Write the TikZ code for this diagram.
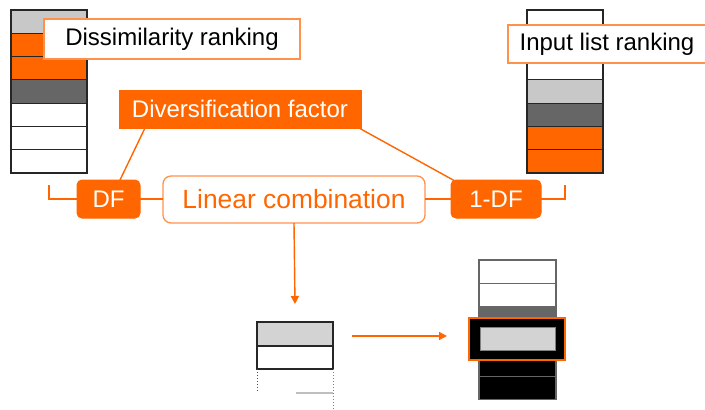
\documentclass[tikz,border=0pt]{standalone}
\usepackage{fontspec}
\setmainfont{Liberation Sans}
\usetikzlibrary{arrows.meta}
\definecolor{orng}{RGB}{255,102,0}
\definecolor{lorng}{RGB}{255,145,77}
\definecolor{lgray}{RGB}{200,200,200}
\definecolor{mgray}{RGB}{211,211,211}
\definecolor{dgray}{RGB}{102,102,102}
\begin{document}
\begin{tikzpicture}[x=1pt,y=-1pt,
  cell/.style={draw=black!85,line width=1.2pt,anchor=north west,minimum width=76pt,minimum height=23.3pt,inner sep=0pt,outer sep=0pt},
  lbl/.style={draw=lorng,line width=1.3pt,fill=white,anchor=north west,inner sep=0pt,outer sep=0pt,font=\fontsize{24}{28}\selectfont,text=black},
  obox/.style={fill=orng,draw=orng,line width=1pt,anchor=north west,inner sep=0pt,outer sep=0pt,font=\fontsize{24}{28}\selectfont,text=white},
  conn/.style={draw=orng,line width=1.4pt},
  tip/.style={-{Triangle[width=8pt,length=8pt]}}
]
\useasboundingbox (0,0) rectangle (705,410);
% left stack
\foreach \i/\c in {1/lgray,2/orng,3/orng,4/dgray,5/white,6/white,7/white}
  \node[cell,fill=\c] (L\i) at (11,{10+(\i-1)*23.29}) {};
% right top stack
\foreach \i/\c in {1/white,2/white,3/white,4/lgray,5/dgray,6/orng,7/orng}
  \node[cell,fill=\c] (R\i) at (527,{10+(\i-1)*23.29}) {};
% labels
\node[lbl,minimum width=256pt,minimum height=40pt] (dis) at (44,19) {Dissimilarity ranking};
\node[lbl,minimum width=198pt,minimum height=38pt] (inp) at (508,25) {Input list ranking};
\node[obox,minimum width=242pt,minimum height=38pt] (div) at (119,90) {Diversification factor};
\node[obox,rounded corners=5pt,minimum width=63pt,minimum height=38pt] (DF) at (77,180) {DF};
\node[obox,rounded corners=5pt,minimum width=90pt,minimum height=38pt] (one) at (451,180) {1-DF};
\node[lbl,rounded corners=8pt,text=orng,font=\fontsize{26.4}{30}\selectfont,minimum width=262pt,minimum height=47pt] (lin) at (163,176) {Linear combination};
% connectors
\coordinate (lb) at (49,185);
\coordinate (rb) at (565,185);
\draw[conn] (DF.west) -| (lb);
\draw[conn] (one.east) -| (rb);
\draw[conn] (DF.east) -- (DF.east -| lin.west);
\draw[conn] (lin.east |- one.west) -- (one.west);
\draw[conn] ([xshift=26pt]div.south west) -- ([xshift=43pt]DF.north west);
\draw[conn] ([xshift=-2pt]div.south east) -- ([xshift=4pt,yshift=-1pt]one.north west);
\coordinate (dn) at (295,304);
\draw[conn,tip] (lin.south) -- (dn);
% small stack
\node[cell,fill=mgray,minimum height=24pt] (S1) at (257,322) {};
\node[cell,fill=white,minimum height=23pt] (S2) at (257,346) {};
\draw[dotted,black!70,line width=1pt] (S2.south west) -- ++(0,22);
\draw[dotted,gray,line width=1pt] (S2.south east) -- ++(0,41);
\draw[gray!50,line width=1.5pt] (296,393) -- (333,393);
\coordinate (ha) at (352,336);
\coordinate (hb) at (447,336);
\draw[conn,tip] (ha) -- (hb);
% right bottom stack
\foreach \i/\c in {1/white,2/white,3/dgray,4/black,5/black,6/black}
  \node[cell,draw=black!60,fill=\c,minimum width=77pt] (B\i) at (479,{260+(\i-1)*23.3}) {};
\node[anchor=north west,fill=black,draw=orng,line width=2pt,minimum width=96pt,minimum height=42pt,inner sep=0pt,outer sep=0pt] (hl) at (469,318) {};
\node[anchor=north west,fill=mgray,draw=gray,line width=1pt,minimum width=75pt,minimum height=23pt,inner sep=0pt,outer sep=0pt] (hin) at (480,327) {};
\end{tikzpicture}
\end{document}
